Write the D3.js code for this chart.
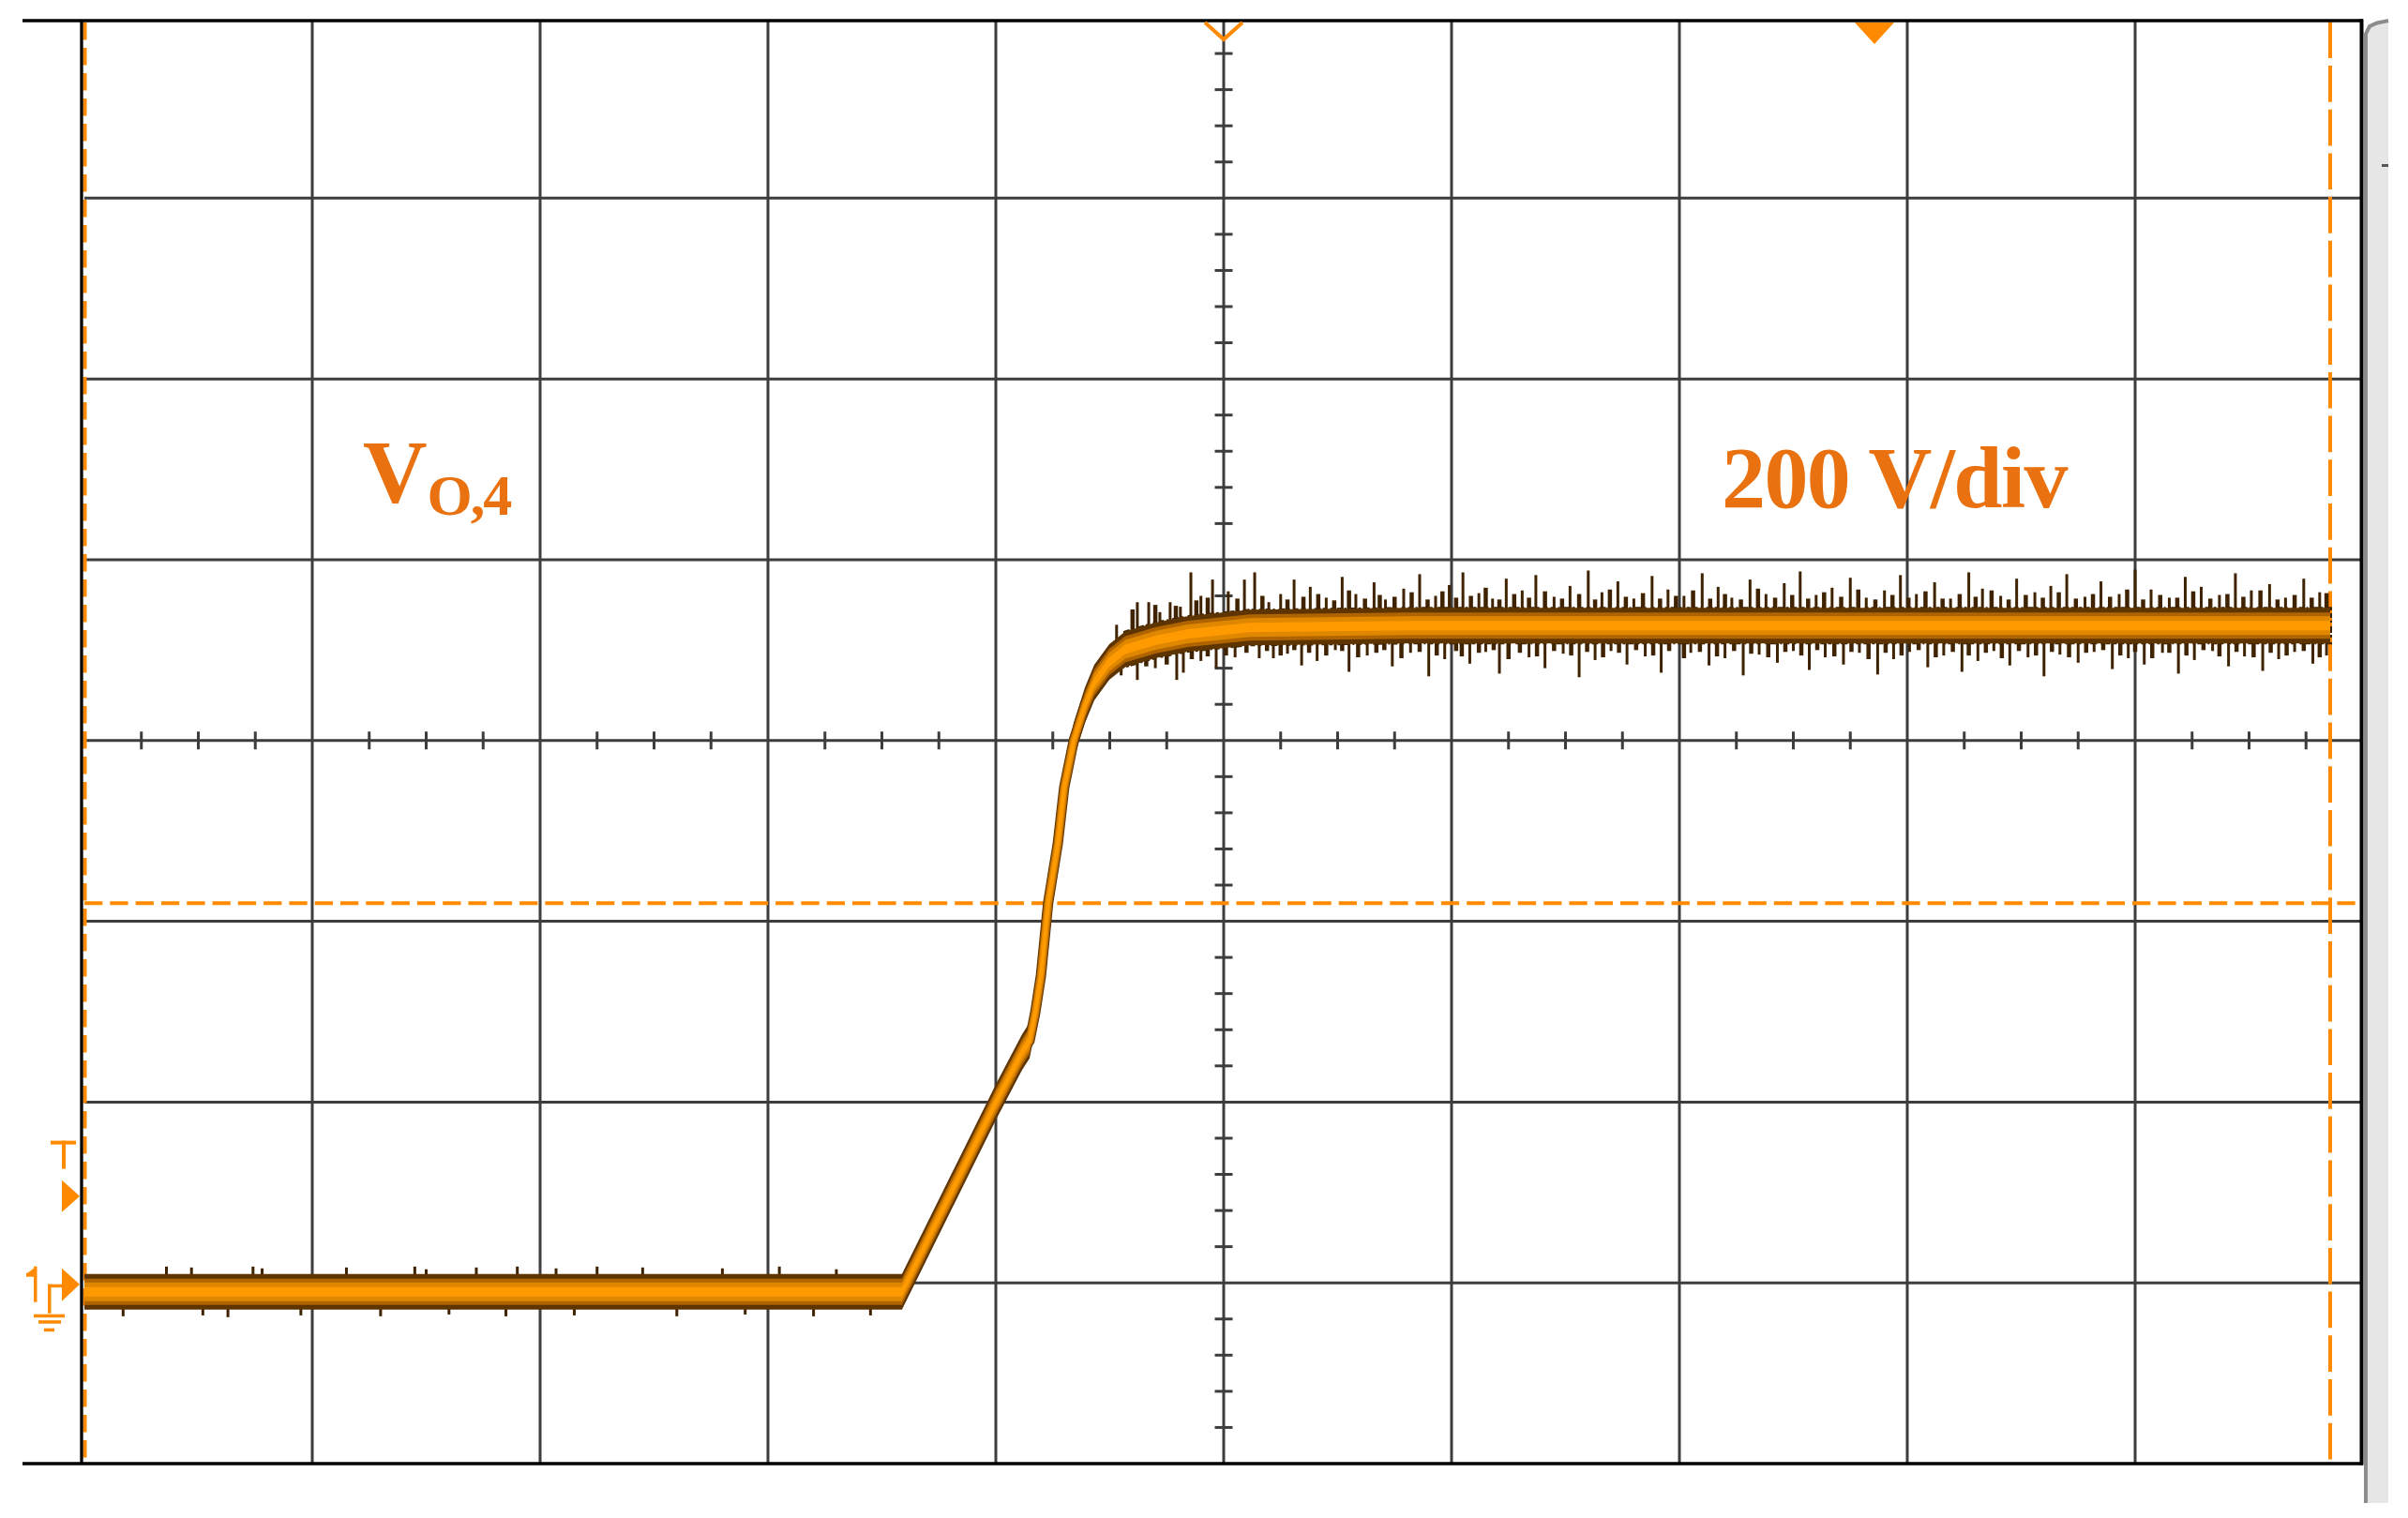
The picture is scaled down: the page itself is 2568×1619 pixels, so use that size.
<!DOCTYPE html>
<html><head><meta charset="utf-8">
<script src="https://cdn.jsdelivr.net/npm/d3@7"></script>
<style>html,body{margin:0;padding:0;background:#fff;} svg{display:block;}</style>
</head><body>
<svg id="c" width="2568" height="1619"></svg>
<script>
// ---------------- data ----------------
// time axis in divisions (10 div), voltage axis in volts (200 V/div)
const xMajorDiv = [-4, -3, -2, -1, 0, 1, 2, 3, 4];
const yMajorVolts = [0, 200, 400, 600, 800, 1000, 1200];
const voltsPerDiv = 200;

// main trace V_O,4 (t in div, value in V)
const traceT = [-5, -1.412, -1.0, -0.885, -0.852, -0.827, -0.802, -0.770, -0.728, -0.700, -0.658, -0.609, -0.568, -0.502, -0.432, -0.296, -0.156, 0.115, 0.802, 4.856];
const traceV = [-10, -10, 200, 255, 268, 299, 340, 421, 486, 548, 600, 639, 664, 687, 701, 711, 718, 725, 727, 727];

// noise spikes [t (div), tip value (V)]
const lowSpikesUp = [[-4.64,18],[-4.53,17],[-4.26,18],[-4.22,16],[-3.85,17],[-3.55,18],[-3.50,15],[-3.28,17],[-3.10,18],[-2.93,16],[-2.75,18],[-2.55,17],[-2.20,16],[-1.95,18],[-1.70,15]];
const lowSpikesDown = [[-4.83,-37],[-4.48,-36],[-4.37,-38],[-4.05,-36],[-3.70,-37],[-3.40,-35],[-3.15,-37],[-2.85,-36],[-2.40,-37],[-2.10,-35],[-1.80,-37],[-1.55,-36]];
const highSpikesUp = [[-0.47,728],[-0.379,753],[-0.329,753],[-0.28,742],[-0.235,753],[-0.19,748],[-0.144,786],[-0.10,760],[-0.049,778],[0.02,765],[0.091,778],[0.136,786],[0.198,753],[0.25,762],[0.309,778],
 [0.38,770],[0.45,758],[0.52,781],[0.58,762],[0.66,775],[0.71,756],[0.79,768],[0.86,784],[0.93,760],[0.99,772],[1.05,786],[1.12,763],[1.18,757],[1.24,779],[1.31,766],[1.37,783],[1.45,759],[1.52,771],[1.60,788],[1.66,764],[1.73,776],[1.80,757],[1.88,782],[1.95,767],[2.02,760],[2.10,785],[2.17,770],[2.23,758],[2.31,778],[2.38,762],[2.46,774],[2.53,787],[2.60,761],[2.67,769],[2.75,780],[2.82,758],[2.90,766],[2.97,783],[3.04,762],[3.12,775],[3.19,757],[3.27,786],[3.33,768],[3.41,760],[3.48,779],[3.56,764],[3.63,771],[3.70,784],[3.78,759],[3.85,776],[3.93,762],[4.00,789],[4.07,767],[4.15,758],[4.22,781],[4.29,770],[4.37,761],[4.44,785],[4.51,766],[4.59,773],[4.66,758],[4.74,779],[4.81,764]];
const highSpikesDown = [[-0.45,672],[-0.379,667],[-0.30,680],[-0.206,667],[-0.177,675],[-0.10,688],[-0.033,680],[0.05,692],[0.156,691],[0.218,691],[0.28,696],[0.342,683],
 [0.41,688],[0.49,700],[0.55,676],[0.63,694],[0.74,682],[0.82,697],[0.90,671],[0.97,690],[1.08,685],[1.15,698],[1.21,674],[1.34,692],[1.41,680],[1.49,696],[1.56,670],[1.63,689],[1.70,699],[1.77,684],[1.85,693],[1.92,675],[2.05,697],[2.13,683],[2.20,691],[2.28,672],[2.35,695],[2.43,686],[2.50,699],[2.57,678],[2.64,692],[2.72,684],[2.79,697],[2.87,673],[2.94,690],[3.01,698],[3.09,681],[3.16,694],[3.24,676],[3.31,688],[3.38,699],[3.45,683],[3.53,692],[3.60,671],[3.67,695],[3.75,686],[3.82,698],[3.90,679],[3.97,691],[4.04,684],[4.12,697],[4.19,674],[4.26,689],[4.34,699],[4.41,682],[4.48,693],[4.56,677],[4.63,690],[4.70,698],[4.78,685],[4.84,694]];
// short fringe noise on the high level [t (div), tip value (V)]
const highFringeUp = [[-0.40,745],[-0.30,750],[-0.21,749],[-0.12,755],[-0.07,758],[0.06,757],[0.17,760],[0.28,756],[0.35,759],[0.415,762],[0.485,755],[0.55,766],[0.62,757],[0.685,761],[0.75,759],[0.825,764],[0.895,756],[0.96,765],[1.02,758],[1.085,760],[1.15,769],[1.21,756],[1.275,762],[1.34,758],[1.41,765],[1.485,757],[1.56,762],[1.63,756],[1.695,767],[1.765,759],[1.84,763],[1.915,757],[1.985,760],[2.06,766],[2.135,757],[2.20,762],[2.27,756],[2.345,768],[2.42,758],[2.495,761],[2.565,757],[2.635,764],[2.71,759],[2.785,767],[2.86,756],[2.935,761],[3.005,758],[3.08,765],[3.155,757],[3.23,762],[3.30,759],[3.37,766],[3.445,756],[3.52,761],[3.595,758],[3.665,764],[3.74,757],[3.815,762],[3.89,759],[3.965,767],[4.035,756],[4.11,761],[4.185,758],[4.255,765],[4.33,757],[4.405,762],[4.475,759],[4.55,766],[4.625,756],[4.70,761],[4.775,758],[4.84,763]];
const highFringeDown = [[-0.34,682],[-0.25,684],[-0.14,690],[-0.07,693],[0.01,694],[0.10,697],[0.19,699],[0.25,694],[0.31,700],[0.375,697],[0.45,694],[0.52,699],[0.59,692],[0.67,697],[0.705,700],[0.78,691],[0.86,698],[0.935,694],[1.02,699],[1.045,693],[1.12,697],[1.185,700],[1.25,690],[1.30,697],[1.375,693],[1.45,699],[1.525,694],[1.595,698],[1.665,692],[1.735,697],[1.81,700],[1.885,694],[1.955,699],[2.02,691],[2.09,698],[2.165,693],[2.24,699],[2.315,696],[2.39,692],[2.465,698],[2.535,694],[2.605,700],[2.68,693],[2.755,698],[2.83,690],[2.905,697],[2.975,694],[3.05,700],[3.125,692],[3.20,698],[3.27,694],[3.345,697],[3.415,691],[3.49,699],[3.565,694],[3.635,698],[3.71,692],[3.785,697],[3.86,700],[3.935,694],[4.00,698],[4.075,691],[4.15,697],[4.225,694],[4.30,700],[4.37,693],[4.445,698],[4.52,692],[4.595,697],[4.665,694],[4.74,699],[4.81,692]];

// cursors and markers
const cursorLevelV = 420;
const cursorLeftT = -5;
const cursorRightT = 4.856;
const triggerLevelV = 96;
const groundLevelV = 0;
const triggerPosT = 2.856;
const centerT = 0;

// labels
const labelMain = "V";
const labelSub = "O,4";
const labelScale = "200 V/div";

// ---------------- drawing ----------------
const W = 2568, H = 1619;
const x = d3.scaleLinear().domain([-5, 5]).range([90, 2520]);
const y = d3.scaleLinear().domain([-200, 1400]).range([1561, 18.5]);
const svg = d3.select('#c');
svg.append('rect').attr('width', W).attr('height', H).attr('fill', '#fff');

const GRID = '#3d3d3d', ORANGE = '#ff8a00', TEXTC = '#e9710f';
const topY = 22, botY = y(-200);
const centerV = 600;

const grid = svg.append('g');
grid.selectAll('line.vg').data(xMajorDiv).join('line').attr('class', 'vg')
  .attr('x1', d => x(d)).attr('x2', d => x(d)).attr('y1', topY).attr('y2', botY)
  .attr('stroke', GRID).attr('stroke-width', 3);
grid.selectAll('line.hg').data(yMajorVolts).join('line').attr('class', 'hg')
  .attr('x1', x(-5)).attr('x2', x(5)).attr('y1', d => y(d)).attr('y2', d => y(d))
  .attr('stroke', GRID).attr('stroke-width', 3);

// minor ticks on center lines
const minorX = d3.range(-19, 20).map(i => i / 4).filter(d => Math.abs(d - Math.round(d)) > 1e-6);
grid.selectAll('line.tx').data(minorX).join('line').attr('class', 'tx')
  .attr('x1', d => x(d)).attr('x2', d => x(d)).attr('y1', y(centerV) - 9.5).attr('y2', y(centerV) + 9.5)
  .attr('stroke', GRID).attr('stroke-width', 3);
const minorY = d3.range(1, 40).map(i => -200 + i * voltsPerDiv / 5).filter(d => d % voltsPerDiv !== 0);
grid.selectAll('line.ty').data(minorY).join('line').attr('class', 'ty')
  .attr('x1', x(centerT) - 9.5).attr('x2', x(centerT) + 9.5).attr('y1', d => y(d)).attr('y2', d => y(d))
  .attr('stroke', GRID).attr('stroke-width', 3);

// cursors
const cur = svg.append('g').attr('stroke', ORANGE).attr('stroke-width', 4).attr('fill', 'none');
cur.append('line').attr('x1', x(-5)).attr('x2', x(5)).attr('y1', y(cursorLevelV)).attr('y2', y(cursorLevelV))
  .attr('stroke-dasharray', '19.3 8');
cur.append('line').attr('x1', x(cursorLeftT) + 0.5).attr('x2', x(cursorLeftT) + 0.5).attr('y1', 24).attr('y2', botY)
  .attr('stroke-dasharray', '18.5 8.5');
cur.append('line').attr('x1', x(cursorRightT)).attr('x2', x(cursorRightT)).attr('y1', 23.3).attr('y2', botY)
  .attr('stroke-dasharray', '38.7 8');

// trace
const level = d3.scaleLinear().domain(traceT).range(traceV);
const tr = svg.append('g');
const SPK = '#3f2300';
function spikes(data, w) {
  tr.append('g').selectAll('line').data(data).join('line')
    .attr('x1', d => x(d[0])).attr('x2', d => x(d[0]))
    .attr('y1', d => y(level(d[0]))).attr('y2', d => y(d[1]))
    .attr('stroke', SPK).attr('stroke-width', w);
}
spikes(lowSpikesUp, 3); spikes(lowSpikesDown, 3);
spikes(highSpikesUp, 3); spikes(highSpikesDown, 3);
spikes(highFringeUp, 4.5); spikes(highFringeDown, 4.5);

const pts = traceT.map((t, i) => [t, traceV[i]]);
const areaGen = h => d3.area().x(d => x(d[0])).y0(d => y(d[1]) + h).y1(d => y(d[1]) - h).curve(d3.curveLinear);
const lineGen = d3.line().x(d => x(d[0])).y(d => y(d[1])).curve(d3.curveLinear);
// jagged dark edge of the persistence band on the settled high level
const highPts = pts.filter(d => d[0] >= -0.45);
tr.append('path').datum(highPts).attr('d', areaGen(18)).attr('fill', '#4a2900')
  .attr('stroke', '#3f2300').attr('stroke-width', 4).attr('stroke-dasharray', '5 3 2 4 7 2 3 5 4 3');
const layers = [
  { h: 19, w: 11, c: '#5e3500' },
  { h: 14, w: 9, c: '#b06400' },
  { h: 10, w: 7, c: '#e08700' },
  { h: 5, w: 4, c: '#ff9a00' }
];
layers.forEach(L => {
  tr.append('path').datum(pts).attr('d', areaGen(L.h)).attr('fill', L.c);
  tr.append('path').datum(pts).attr('d', lineGen).attr('fill', 'none').attr('stroke', L.c)
    .attr('stroke-width', L.w).attr('stroke-linejoin', 'round');
});

// frame
const fr = svg.append('g').attr('stroke', '#000').attr('stroke-width', 3.3);
fr.append('line').attr('x1', 24).attr('x2', x(5)).attr('y1', topY).attr('y2', topY);
fr.append('line').attr('x1', 24).attr('x2', x(5)).attr('y1', botY).attr('y2', botY);
fr.append('line').attr('x1', x(-5) - 3).attr('x2', x(-5) - 3).attr('y1', topY).attr('y2', botY);
fr.append('line').attr('x1', x(5) - 1.5).attr('x2', x(5) - 1.5).attr('y1', topY - 1.5).attr('y2', botY + 1.5).attr('stroke-width', 4);

// right gray strip
const rs = svg.append('g');
rs.append('path').attr('d', 'M2521,36 L2525,28 L2533,24 L2547,21 L2547,1603 L2521,1603 Z').attr('fill', '#e6e6e6');
rs.append('path').attr('d', 'M2523,1603 L2523,36 L2527,28 L2535,24.5 L2547,22').attr('fill', 'none').attr('stroke', '#8c8c8c').attr('stroke-width', 4);
rs.append('line').attr('x1', 2540).attr('x2', 2547).attr('y1', 176.5).attr('y2', 176.5).attr('stroke', '#555').attr('stroke-width', 3);

// markers
const mk = svg.append('g').attr('fill', ORANGE);
const cx0 = x(centerT);
mk.append('path').attr('d', `M${cx0 - 20},24 L${cx0},42 L${cx0 + 20},24`).attr('fill', 'none')
  .attr('stroke', ORANGE).attr('stroke-width', 4);
const tx0 = x(triggerPosT);
mk.append('path').attr('d', `M${tx0 - 21},24 L${tx0 + 21},24 L${tx0},47 Z`);
const ty0 = y(triggerLevelV);
mk.append('path').attr('d', `M66,${ty0 - 17} L85,${ty0} L66,${ty0 + 17} Z`);
mk.append('rect').attr('x', 54).attr('y', ty0 - 59).attr('width', 27).attr('height', 4);
mk.append('rect').attr('x', 66).attr('y', ty0 - 59).attr('width', 4).attr('height', 30);
const gy0 = y(groundLevelV) + 1.5;
mk.append('path').attr('d', `M66,${gy0 - 17} L85,${gy0} L66,${gy0 + 18} Z`);
mk.append('rect').attr('x', 36).attr('y', gy0 - 19).attr('width', 3.5).attr('height', 38);
mk.append('path').attr('d', `M28,${gy0 - 11} L36,${gy0 - 17} L36,${gy0 - 11} Z`);
mk.append('rect').attr('x', 28).attr('y', gy0 - 12).attr('width', 8).attr('height', 4);
mk.append('rect').attr('x', 51).attr('y', gy0).attr('width', 16).attr('height', 3.5);
mk.append('rect').attr('x', 51).attr('y', gy0).attr('width', 3.5).attr('height', 31);
mk.append('rect').attr('x', 36).attr('y', gy0 + 32).attr('width', 33).attr('height', 3.5);
mk.append('rect').attr('x', 41).attr('y', gy0 + 38.5).attr('width', 24).attr('height', 3.5);
mk.append('rect').attr('x', 47).attr('y', gy0 + 47).attr('width', 11).attr('height', 3.5);

// labels
const FONT = '"Liberation Serif", "Times New Roman", Times, serif';
const t1 = svg.append('text').attr('x', 387).attr('y', 536).attr('fill', TEXTC)
  .attr('font-family', FONT).attr('font-weight', 'bold').attr('font-size', 95);
t1.append('tspan').text(labelMain);
t1.append('tspan').attr('font-size', 62).attr('dy', 13).attr('letter-spacing', -2).text(labelSub);
svg.append('text').attr('x', 1836).attr('y', 541).attr('fill', TEXTC)
  .attr('font-family', FONT).attr('font-weight', 'bold').attr('font-size', 94)
  .attr('letter-spacing', -1.6).text(labelScale);
</script>
</body></html>
